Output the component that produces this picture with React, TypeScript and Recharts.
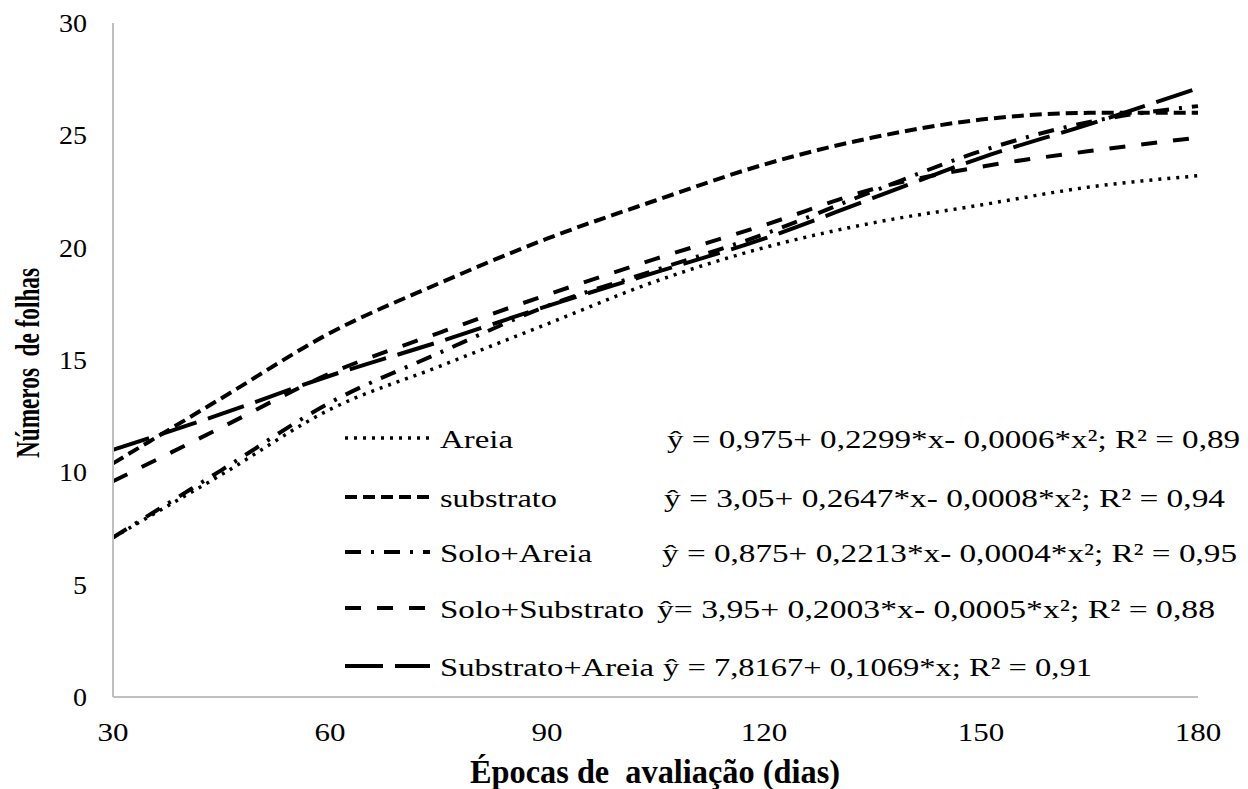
import { LineChart, Line, XAxis, YAxis, Label } from 'recharts';

// épocas de avaliação (dias)
const days = [30, 45, 60, 75, 90, 105, 120, 135, 150, 165, 180];

// número de folhas
const areia = [7.1, 9.9, 12.8, 14.7, 16.6, 18.5, 20.0, 21.1, 21.9, 22.7, 23.2];
const substrato = [10.4, 13.3, 16.2, 18.4, 20.4, 22.1, 23.7, 24.9, 25.7, 26.0, 26.0];
const soloAreia = [7.1, 10.1, 13.1, 15.3, 17.4, 19.0, 20.6, 22.5, 24.3, 25.6, 26.3];
const soloSubstrato = [9.6, 12.0, 14.4, 16.2, 17.9, 19.5, 21.0, 22.6, 23.6, 24.3, 24.9];
const substratoAreia = [11.0, 12.6, 14.3, 15.8, 17.4, 18.9, 20.4, 22.2, 24.0, 25.5, 27.1];

const xTicks = [30, 60, 90, 120, 150, 180];
const yTicks = [0, 5, 10, 15, 20, 25, 30];

const seriesNames = ['Areia', 'substrato', 'Solo+Areia', 'Solo+Substrato', 'Substrato+Areia'];
const equations = [
  'ŷ = 0,975+ 0,2299*x- 0,0006*x²; R² = 0,89',
  'ŷ = 3,05+ 0,2647*x- 0,0008*x²; R² = 0,94',
  'ŷ = 0,875+ 0,2213*x- 0,0004*x²; R² = 0,95',
  'ŷ= 3,95+ 0,2003*x- 0,0005*x²; R² = 0,88',
  'ŷ = 7,8167+ 0,1069*x; R² = 0,91',
];

const data = days.map((d, i) => ({
  day: d,
  areia: areia[i],
  substrato: substrato[i],
  soloAreia: soloAreia[i],
  soloSubstrato: soloSubstrato[i],
  substratoAreia: substratoAreia[i],
}));

const FONT = '"Liberation Serif", "Times New Roman", serif';

// estilos de linha de cada série
const styles = [
  { key: 'areia', dash: '3 6', width: 3.5 },
  { key: 'substrato', dash: '12 6', width: 4 },
  { key: 'soloAreia', dash: '16 10 3 10', width: 4 },
  { key: 'soloSubstrato', dash: '16 16', width: 4 },
  { key: 'substratoAreia', dash: '38 12', width: 4 },
];

// posição da legenda dentro do gráfico
const rowY = [438, 497, 552, 608, 666];
const labelWidths = [73, 117, 152, 204, 214];
const eqX = [667, 664, 662, 657, 663];
const eqWidths = [573, 561, 575, 558, 429];

const YTick = (p: any) => {
  const s = String(p.payload.value);
  return (
    <text x={87} y={p.y + 9} textAnchor="end" fontFamily={FONT} fontSize={26} fill="#000"
      textLength={s.length * 14} lengthAdjust="spacingAndGlyphs">
      {s}
    </text>
  );
};

const XTick = (p: any) => {
  const s = String(p.payload.value);
  return (
    <text x={p.x} y={741} textAnchor="middle" fontFamily={FONT} fontSize={26} fill="#000"
      textLength={s.length * 15.5} lengthAdjust="spacingAndGlyphs">
      {s}
    </text>
  );
};

const XTitle = () => (
  <text x={655} y={783} textAnchor="middle" fontFamily={FONT} fontSize={33} fontWeight="bold"
    fill="#000" style={{ whiteSpace: 'pre' }} textLength={370} lengthAdjust="spacingAndGlyphs">
    Épocas de  avaliação (dias)
  </text>
);

const YTitle = () => (
  <text transform="translate(39,363) rotate(-90)" textAnchor="middle" fontFamily={FONT}
    fontSize={33} fontWeight="bold" fill="#000" style={{ whiteSpace: 'pre' }}
    textLength={190} lengthAdjust="spacingAndGlyphs">
    Números  de folhas
  </text>
);

export default function App() {
  return (
    <div style={{ position: 'absolute', left: 0, top: 0, width: 1248, height: 789, background: '#fff' }}>
      <LineChart width={1248} height={789} data={data} margin={{ top: 23, right: 50, bottom: 0, left: 0 }}>
        <XAxis
          dataKey="day"
          type="number"
          domain={[30, 180]}
          ticks={xTicks}
          height={92}
          tickLine={false}
          tickSize={0}
          axisLine={{ stroke: '#bfbfbf', strokeWidth: 2 }}
          tick={<XTick />}
          label={<Label content={<XTitle />} />}
        />
        <YAxis
          type="number"
          domain={[0, 30]}
          ticks={yTicks}
          width={113}
          tickLine={false}
          tickSize={0}
          axisLine={{ stroke: '#bfbfbf', strokeWidth: 2 }}
          tick={<YTick />}
          label={<Label content={<YTitle />} />}
        />
        {styles.map(s => (
          <Line
            key={s.key}
            type="monotone"
            dataKey={s.key}
            stroke="#000"
            strokeWidth={s.width}
            strokeDasharray={s.dash}
            dot={false}
            activeDot={false}
            isAnimationActive={false}
          />
        ))}
      </LineChart>
      <svg width={1248} height={789} style={{ position: 'absolute', left: 0, top: 0, pointerEvents: 'none' }}>
        {seriesNames.map((name, i) => (
          <g key={name}>
            <line x1={345} x2={430} y1={rowY[i]} y2={rowY[i]} stroke="#000"
              strokeWidth={styles[i].width} strokeDasharray={styles[i].dash} />
            <text x={440} y={rowY[i] + 10} fontFamily={FONT} fontSize={26} fill="#000"
              textLength={labelWidths[i]} lengthAdjust="spacingAndGlyphs">
              {name}
            </text>
            <text x={eqX[i]} y={rowY[i] + 10} fontFamily={FONT} fontSize={26} fill="#000"
              textLength={eqWidths[i]} lengthAdjust="spacingAndGlyphs">
              {equations[i]}
            </text>
          </g>
        ))}
      </svg>
    </div>
  );
}
